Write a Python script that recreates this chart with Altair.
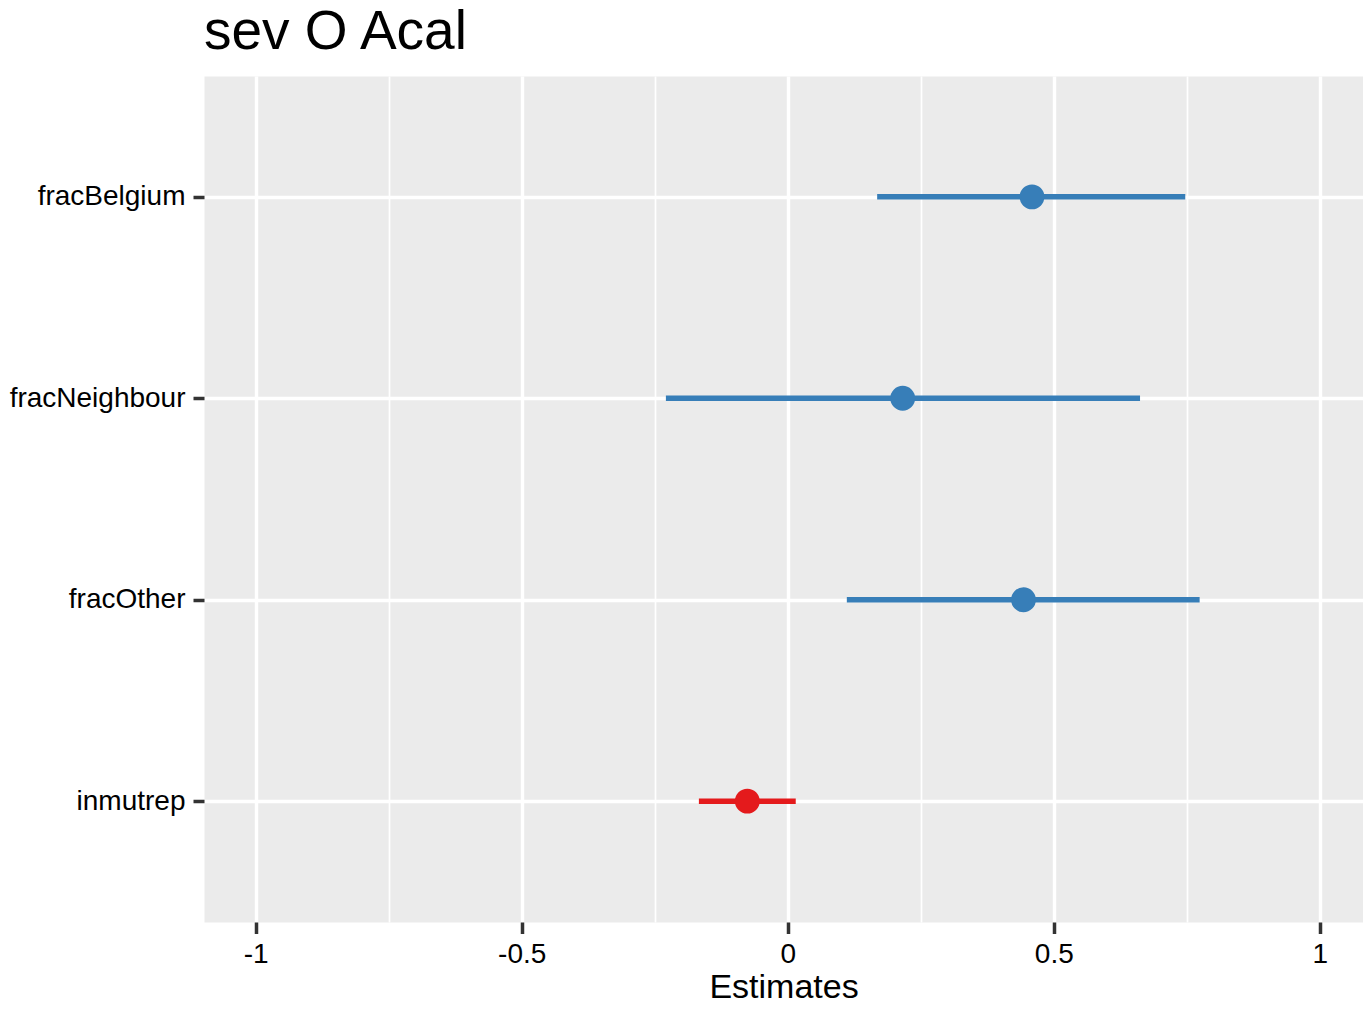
import altair as alt
import pandas as pd

terms = ["fracBelgium", "fracNeighbour", "fracOther", "inmutrep"]
estimates = [0.459, 0.216, 0.443, -0.076]
conf_low = [0.168, -0.229, 0.111, -0.167]
conf_high = [0.747, 0.662, 0.774, 0.015]
groups = ["pos", "pos", "pos", "neg"]
x_ticks = [-1, -0.75, -0.5, -0.25, 0, 0.25, 0.5, 0.75, 1]
group_domain = ["pos", "neg"]
group_colors = ["#377EB8", "#E41A1C"]

df = pd.DataFrame({
    "term": terms,
    "estimate": estimates,
    "low": conf_low,
    "high": conf_high,
    "group": groups,
})

FONT = "Liberation Sans"
major = "abs(datum.value*2 - round(datum.value*2)) < 0.001"

x_scale = alt.Scale(domain=[-1.097, 1.081], nice=False, zero=False)
y_scale = alt.Scale(type="point", padding=0.6)
color = alt.Color("group:N", scale=alt.Scale(domain=group_domain, range=group_colors), legend=None)

x_axis = alt.Axis(
    values=x_ticks,
    title="Estimates",
    titleFontSize=34,
    titleFont=FONT,
    titleFontWeight="normal",
    titleColor="#000000",
    titleBaseline="alphabetic",
    titleY=75,
    labelFontSize=28,
    labelFont=FONT,
    labelColor="#000000",
    labelPadding=7,
    labelFlush=False,
    labelOverlap=False,
    labelExpr=f"({major}) ? (datum.value < 0 ? '-' + format(-datum.value, '~g') : format(datum.value, '~g')) : ''",
    domain=False,
    grid=True,
    gridColor="#FFFFFF",
    gridWidth={"condition": {"test": major, "value": 3.4}, "value": 1.7},
    ticks=True,
    tickColor="#333333",
    tickSize=11.5,
    tickWidth=3.5,
    tickOpacity={"condition": {"test": major, "value": 1}, "value": 0},
)

y_axis = alt.Axis(
    title=None,
    labelFontSize=28,
    labelFont=FONT,
    labelColor="#000000",
    labelPadding=8,
    labelLimit=400,
    domain=False,
    grid=True,
    gridColor="#FFFFFF",
    gridWidth=3.4,
    ticks=True,
    tickColor="#333333",
    tickSize=11,
    tickWidth=3.5,
)

base = alt.Chart(df)

rules = base.mark_rule(strokeWidth=5.5, strokeCap="butt").encode(
    x=alt.X("low:Q", scale=x_scale, axis=x_axis),
    x2="high:Q",
    y=alt.Y("term:N", sort=terms, scale=y_scale, axis=y_axis),
    color=color,
)

points = base.mark_circle(size=616, opacity=1).encode(
    x=alt.X("estimate:Q", scale=x_scale),
    y=alt.Y("term:N", sort=terms, scale=y_scale),
    color=color,
)

chart = (
    alt.layer(rules, points)
    .properties(
        width=1159,
        height=846,
        title=alt.Title(
            "sev O Acal",
            anchor="start",
            frame="group",
            fontSize=55,
            font=FONT,
            fontWeight="normal",
            color="#000000",
            offset=15,
        ),
        autosize=alt.AutoSizeParams(type="none"),
        padding={"left": 196, "top": 68, "right": 0, "bottom": 78},
    )
    .configure(background="#FFFFFF")
    .configure_view(fill="#EBEBEB", stroke="transparent")
)

chart.save("out.html", embed_options={"renderer": "svg", "actions": False})
